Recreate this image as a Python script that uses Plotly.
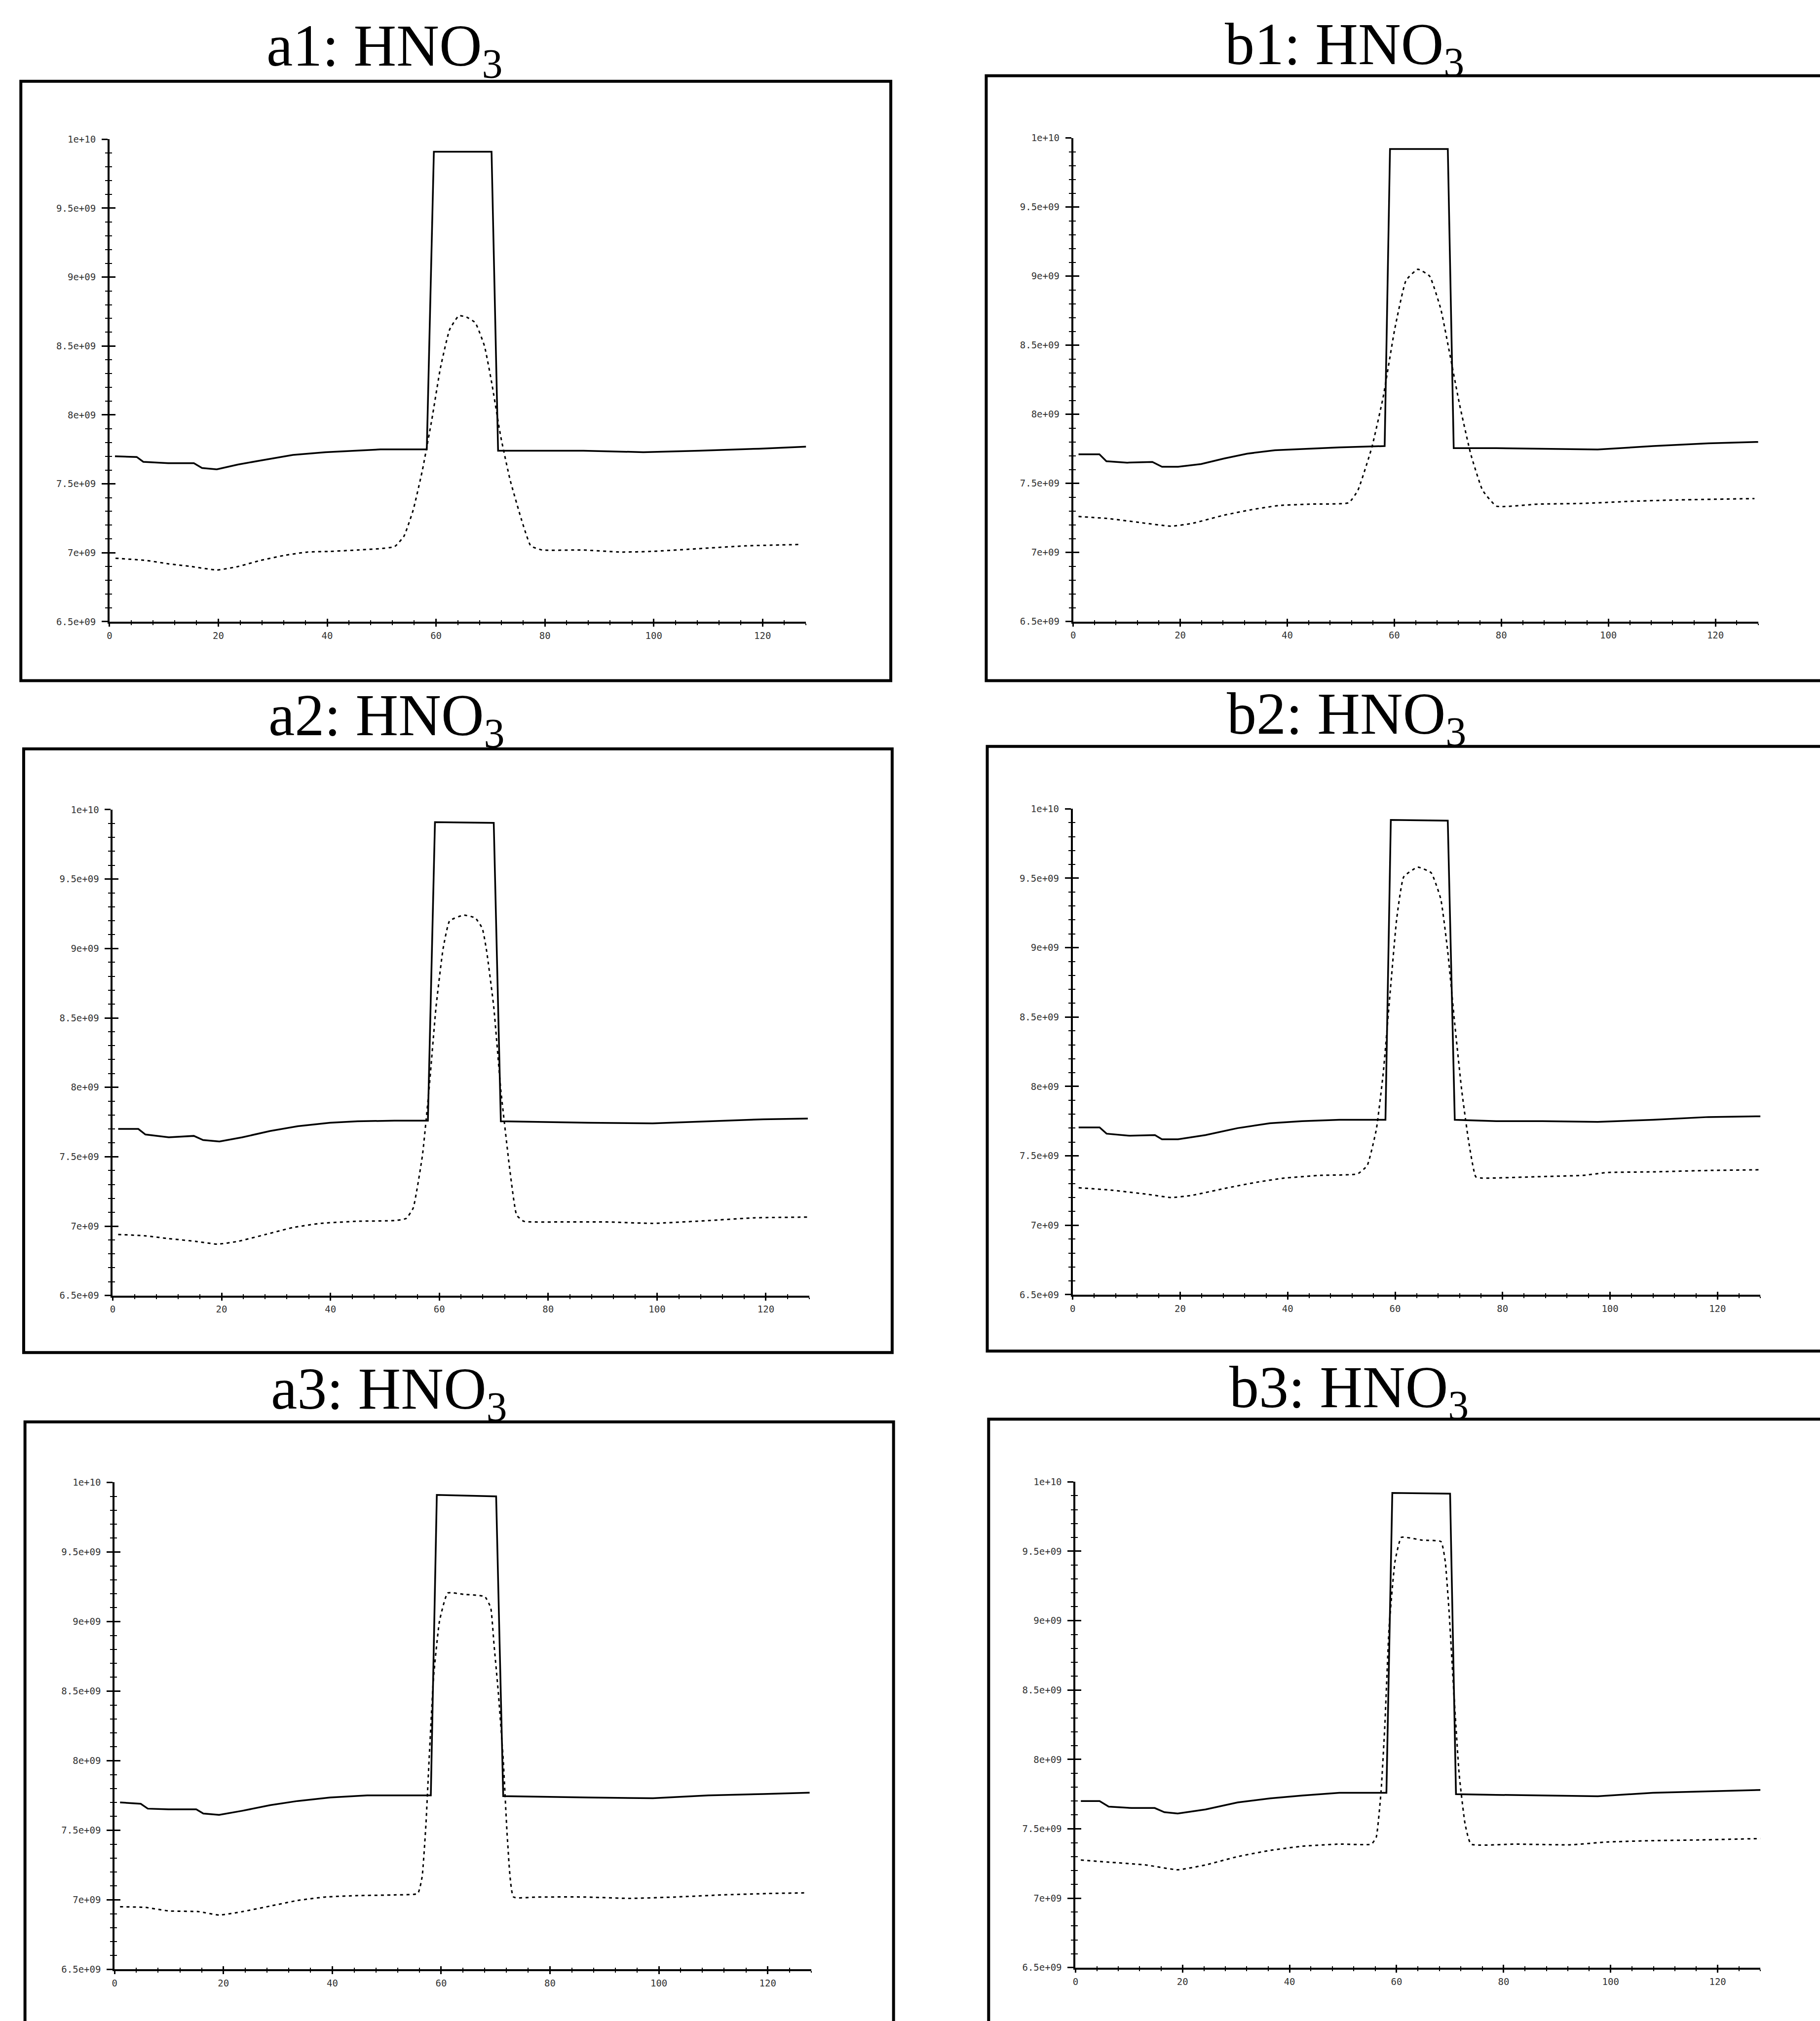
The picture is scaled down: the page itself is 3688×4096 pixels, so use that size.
import plotly.graph_objects as go

# ---------------- data ----------------
X_RANGE = [0, 128]
Y_RANGE = [6.5e9, 1.0e10]
Y_TICK_VALS = [6.5e9, 7.0e9, 7.5e9, 8.0e9, 8.5e9, 9.0e9, 9.5e9, 1.0e10]
Y_TICK_TEXT = ["6.5e+09", "7e+09", "7.5e+09", "8e+09", "8.5e+09", "9e+09", "9.5e+09", "1e+10"]
X_TICK_VALS = [0, 20, 40, 60, 80, 100, 120]
X_TICK_TEXT = ["0", "20", "40", "60", "80", "100", "120"]

TITLES = ["a1: HNO<sub>3</sub>", "b1: HNO<sub>3</sub>",
          "a2: HNO<sub>3</sub>", "b2: HNO<sub>3</sub>",
          "a3: HNO<sub>3</sub>", "b3: HNO<sub>3</sub>"]

A1_SOLID_X = [1.0, 5.0, 6.2, 10.8, 15.5, 17.0, 19.7, 23.6, 27.8, 33.7, 39.7, 45.6, 49.8, 58.3, 59.6, 70.2, 71.4, 78.6, 87.1, 98.1, 108.3, 119.3, 128.0]
A1_SOLID_Y = [7.70e9, 7.695e9, 7.66e9, 7.65e9, 7.65e9, 7.615e9, 7.605e9, 7.64e9, 7.67e9, 7.71e9, 7.73e9, 7.74e9, 7.75e9, 7.75e9, 9.91e9, 9.91e9, 7.74e9, 7.74e9, 7.74e9, 7.73e9, 7.74e9, 7.755e9, 7.77e9]
A1_DOT_X = [1.1, 6.6, 10.8, 15.1, 19.7, 23.6, 27.8, 32.0, 36.3, 40.5, 45.6, 49.8, 52.4, 54.1, 55.8, 57.5, 59.2, 60.8, 62.5, 64.2, 65.6, 67.2, 68.9, 70.2, 71.9, 73.6, 75.7, 77.4, 79.5, 87.1, 93.9, 99.8, 108.3, 116.8, 126.9]
A1_DOT_Y = [6.96e9, 6.945e9, 6.92e9, 6.90e9, 6.875e9, 6.90e9, 6.945e9, 6.98e9, 7.005e9, 7.01e9, 7.02e9, 7.03e9, 7.045e9, 7.12e9, 7.31e9, 7.60e9, 7.96e9, 8.34e9, 8.62e9, 8.72e9, 8.71e9, 8.67e9, 8.50e9, 8.24e9, 7.84e9, 7.53e9, 7.24e9, 7.05e9, 7.02e9, 7.02e9, 7.005e9, 7.01e9, 7.03e9, 7.05e9, 7.06e9]

B1_SOLID_X = [1.0, 4.9, 6.2, 10.1, 14.8, 16.6, 19.6, 23.9, 28.2, 32.5, 37.7, 43.7, 49.7, 58.2, 59.2, 70.0, 71.1, 79.1, 87.7, 98.0, 108.4, 118.7, 128.0]
B1_SOLID_Y = [7.71e9, 7.71e9, 7.66e9, 7.65e9, 7.655e9, 7.62e9, 7.62e9, 7.64e9, 7.68e9, 7.715e9, 7.74e9, 7.75e9, 7.76e9, 7.77e9, 9.92e9, 9.92e9, 7.755e9, 7.755e9, 7.75e9, 7.745e9, 7.77e9, 7.79e9, 7.80e9]
B1_DOT_X = [1.0, 6.6, 11.8, 18.3, 22.2, 28.2, 33.4, 38.5, 44.6, 51.5, 53.2, 55.8, 57.9, 60.1, 62.2, 64.4, 66.6, 68.7, 70.4, 72.2, 74.3, 76.5, 79.1, 86.8, 95.4, 104.1, 112.7, 127.3]
B1_DOT_Y = [7.26e9, 7.245e9, 7.22e9, 7.19e9, 7.21e9, 7.27e9, 7.31e9, 7.34e9, 7.35e9, 7.36e9, 7.45e9, 7.76e9, 8.12e9, 8.62e9, 8.97e9, 9.05e9, 9.00e9, 8.76e9, 8.43e9, 8.07e9, 7.71e9, 7.45e9, 7.335e9, 7.35e9, 7.355e9, 7.37e9, 7.38e9, 7.39e9]

A2_SOLID_X = [1.0, 4.7, 6.0, 10.3, 14.9, 16.6, 19.6, 23.8, 28.9, 34.0, 39.9, 45.0, 51.8, 57.9, 59.2, 70.0, 71.3, 78.9, 87.4, 99.2, 109.4, 119.6, 127.7]
A2_SOLID_Y = [7.70e9, 7.70e9, 7.66e9, 7.64e9, 7.65e9, 7.62e9, 7.61e9, 7.64e9, 7.685e9, 7.72e9, 7.745e9, 7.755e9, 7.76e9, 7.76e9, 9.91e9, 9.905e9, 7.755e9, 7.75e9, 7.745e9, 7.74e9, 7.755e9, 7.77e9, 7.775e9]
A2_DOT_X = [1.0, 6.0, 10.3, 15.3, 19.2, 23.0, 28.1, 33.1, 38.2, 45.0, 51.8, 53.9, 55.2, 56.9, 58.1, 59.4, 60.7, 61.9, 64.5, 66.6, 67.9, 68.7, 70.0, 71.3, 73.0, 74.2, 75.5, 82.3, 90.8, 99.2, 109.4, 117.9, 127.7]
A2_DOT_Y = [6.94e9, 6.93e9, 6.91e9, 6.89e9, 6.87e9, 6.89e9, 6.94e9, 6.99e9, 7.02e9, 7.035e9, 7.04e9, 7.055e9, 7.13e9, 7.51e9, 7.98e9, 8.58e9, 9.00e9, 9.20e9, 9.24e9, 9.22e9, 9.145e9, 8.98e9, 8.58e9, 7.98e9, 7.39e9, 7.08e9, 7.035e9, 7.03e9, 7.03e9, 7.02e9, 7.04e9, 7.06e9, 7.065e9]

B2_SOLID_X = [1.1, 5.0, 6.3, 10.6, 15.3, 16.6, 19.6, 24.7, 30.7, 36.7, 42.7, 49.6, 58.2, 59.2, 69.8, 71.1, 78.8, 87.4, 97.7, 108.0, 118.3, 128.0]
B2_SOLID_Y = [7.705e9, 7.705e9, 7.66e9, 7.645e9, 7.65e9, 7.62e9, 7.62e9, 7.65e9, 7.70e9, 7.735e9, 7.75e9, 7.76e9, 7.76e9, 9.92e9, 9.915e9, 7.76e9, 7.75e9, 7.75e9, 7.745e9, 7.76e9, 7.78e9, 7.785e9]
B2_DOT_X = [1.1, 6.7, 13.6, 18.3, 22.1, 28.2, 34.2, 39.3, 46.2, 53.0, 54.8, 56.5, 57.8, 59.1, 60.3, 61.6, 64.2, 66.7, 68.5, 69.8, 71.1, 72.4, 73.7, 75.0, 76.2, 86.5, 95.1, 99.4, 108.0, 118.3, 128.0]
B2_DOT_Y = [7.27e9, 7.255e9, 7.225e9, 7.20e9, 7.215e9, 7.265e9, 7.31e9, 7.34e9, 7.36e9, 7.37e9, 7.43e9, 7.69e9, 8.10e9, 8.69e9, 9.21e9, 9.51e9, 9.58e9, 9.54e9, 9.35e9, 8.97e9, 8.45e9, 7.97e9, 7.60e9, 7.35e9, 7.34e9, 7.35e9, 7.36e9, 7.38e9, 7.385e9, 7.395e9, 7.40e9]

A3_SOLID_X = [1.0, 4.8, 6.1, 9.9, 15.0, 16.3, 19.2, 23.5, 28.6, 33.6, 39.6, 46.4, 52.3, 58.1, 59.2, 70.1, 71.4, 78.6, 87.0, 98.9, 109.1, 119.2, 127.7]
A3_SOLID_Y = [7.70e9, 7.69e9, 7.655e9, 7.65e9, 7.65e9, 7.62e9, 7.61e9, 7.64e9, 7.68e9, 7.71e9, 7.735e9, 7.75e9, 7.75e9, 7.75e9, 9.91e9, 9.90e9, 7.745e9, 7.74e9, 7.735e9, 7.73e9, 7.75e9, 7.76e9, 7.77e9]
A3_DOT_X = [1.0, 5.7, 9.9, 15.4, 19.2, 23.5, 28.6, 33.6, 38.7, 44.7, 51.4, 55.7, 56.5, 57.2, 57.8, 58.6, 59.7, 61.2, 64.2, 68.0, 69.1, 69.7, 70.5, 71.4, 72.2, 73.3, 77.7, 86.2, 94.7, 103.1, 111.6, 120.1, 127.3]
A3_DOT_Y = [6.95e9, 6.945e9, 6.92e9, 6.915e9, 6.89e9, 6.915e9, 6.955e9, 6.995e9, 7.02e9, 7.03e9, 7.035e9, 7.045e9, 7.165e9, 7.54e9, 8.02e9, 8.60e9, 9.005e9, 9.205e9, 9.195e9, 9.18e9, 9.10e9, 8.84e9, 8.49e9, 8.01e9, 7.42e9, 7.02e9, 7.02e9, 7.02e9, 7.01e9, 7.02e9, 7.035e9, 7.045e9, 7.05e9]

B3_SOLID_X = [1.0, 4.5, 6.2, 10.5, 14.8, 16.6, 19.1, 24.3, 30.3, 36.4, 42.4, 49.3, 58.1, 59.2, 70.0, 71.1, 78.6, 87.2, 97.6, 107.9, 118.3, 128.0]
B3_SOLID_Y = [7.70e9, 7.70e9, 7.66e9, 7.65e9, 7.65e9, 7.62e9, 7.61e9, 7.64e9, 7.69e9, 7.72e9, 7.74e9, 7.76e9, 7.76e9, 9.92e9, 9.915e9, 7.75e9, 7.745e9, 7.74e9, 7.735e9, 7.76e9, 7.77e9, 7.78e9]
B3_DOT_X = [1.0, 6.2, 13.1, 19.1, 24.3, 30.3, 36.4, 42.4, 49.3, 55.3, 56.2, 57.1, 57.8, 58.6, 59.7, 60.9, 64.8, 68.3, 69.1, 69.8, 70.7, 71.7, 72.8, 73.9, 82.1, 92.4, 99.3, 107.9, 116.6, 128.0]
B3_DOT_Y = [7.275e9, 7.26e9, 7.24e9, 7.205e9, 7.24e9, 7.30e9, 7.345e9, 7.375e9, 7.39e9, 7.39e9, 7.44e9, 7.77e9, 8.24e9, 8.95e9, 9.425e9, 9.60e9, 9.58e9, 9.57e9, 9.425e9, 9.07e9, 8.48e9, 7.89e9, 7.535e9, 7.39e9, 7.39e9, 7.385e9, 7.405e9, 7.415e9, 7.42e9, 7.43e9]

SERIES = [
    (A1_SOLID_X, A1_SOLID_Y, A1_DOT_X, A1_DOT_Y),
    (B1_SOLID_X, B1_SOLID_Y, B1_DOT_X, B1_DOT_Y),
    (A2_SOLID_X, A2_SOLID_Y, A2_DOT_X, A2_DOT_Y),
    (B2_SOLID_X, B2_SOLID_Y, B2_DOT_X, B2_DOT_Y),
    (A3_SOLID_X, A3_SOLID_Y, A3_DOT_X, A3_DOT_Y),
    (B3_SOLID_X, B3_SOLID_Y, B3_DOT_X, B3_DOT_Y),
]

# ---------------- layout geometry (pixels in the 3688x4096 page) ----------------
W, H = 3688, 4096
# plot area: x of value 0, x of value 128, y of 1e10, y of 6.5e9
PLOT_AREAS = [
    (216.3, 1630.1, 272.8, 1255.7),
    (2172.2, 3562.6, 270.1, 1255.4),
    (222.8, 1636.9, 1638.8, 2628.8),
    (2171.3, 3567.2, 1637.1, 2627.1),
    (226.6, 1640.6, 3009.6, 4001.8),
    (2176.9, 3567.2, 3008.5, 3998.3),
]
# frames: left, top, right, bottom
FRAMES = [
    (36.3, 154.5, 1802.0, 1376.0),
    (1995.7, 143.3, 3760.0, 1376.0),
    (42.0, 1514.8, 1804.8, 2745.0),
    (1997.8, 1509.9, 3760.0, 2742.0),
    (44.7, 2886.3, 1807.6, 4160.0),
    (2000.6, 2880.7, 3760.0, 4160.0),
]
TITLE_POS = [(774.5, 90), (2722.6, 87), (779.0, 1455), (2727.0, 1452), (783.6, 2827), (2731.6, 2824)]

TICK_FONT = dict(family="DejaVu Sans Mono", size=19, color="#333333")
TITLE_FONT = dict(family="Liberation Serif", size=120, color="black")

fig = go.Figure()
layout = dict(
    width=W, height=H,
    margin=dict(l=0, r=0, t=0, b=0),
    paper_bgcolor="white", plot_bgcolor="rgba(0,0,0,0)",
    showlegend=False,
    shapes=[], annotations=[],
)


def px_x(v):
    return v / W


def px_y(v):
    return 1 - v / H


for i, (area, frame, tpos, title, ser) in enumerate(zip(PLOT_AREAS, FRAMES, TITLE_POS, TITLES, SERIES)):
    n = i + 1
    m = i + 7
    x0, x1, yt, yb = area
    xdom = [px_x(x0), px_x(x1)]
    ydom = [px_y(yb), px_y(yt)]
    xs, ys, xd, yd = ser

    fig.add_trace(go.Scatter(x=xs, y=ys, mode="lines", xaxis=f"x{n}", yaxis=f"y{n}",
                             line=dict(color="black", width=3.5), hoverinfo="skip"))
    fig.add_trace(go.Scatter(x=xd, y=yd, mode="lines", xaxis=f"x{n}", yaxis=f"y{n}",
                             line=dict(color="black", width=3, dash="6px,7px", shape="spline", smoothing=0.4),
                             hoverinfo="skip"))
    # empty trace for the overlay axes that give the crossing tick marks
    fig.add_trace(go.Scatter(x=[None], y=[None], mode="lines", xaxis=f"x{m}", yaxis=f"y{m}", hoverinfo="skip"))

    common_x = dict(range=X_RANGE, tickmode="array", tickvals=X_TICK_VALS, ticktext=X_TICK_TEXT,
                    showgrid=False, zeroline=False, tickcolor="black", tickwidth=3)
    common_y = dict(range=Y_RANGE, tickmode="array", tickvals=Y_TICK_VALS, ticktext=Y_TICK_TEXT,
                    showgrid=False, zeroline=False, tickcolor="black", tickwidth=3)

    layout[f"xaxis{n}"] = dict(domain=xdom, anchor=f"y{n}", showline=True, linecolor="black", linewidth=4,
                               ticks="outside", ticklen=6, tickfont=TICK_FONT, ticklabelstandoff=2,
                               minor=dict(tickmode="linear", tick0=0, dtick=4, ticks="outside", ticklen=3,
                                          tickwidth=2, tickcolor="black"),
                               **common_x)
    layout[f"yaxis{n}"] = dict(domain=ydom, anchor=f"x{n}", showline=True, linecolor="black", linewidth=4,
                               ticks="outside", ticklen=12, tickfont=TICK_FONT, ticklabelstandoff=8,
                               minor=dict(tickmode="linear", tick0=6.5e9, dtick=1e8, ticks="outside", ticklen=5,
                                          tickwidth=2, tickcolor="black"),
                               **common_y)
    layout[f"xaxis{m}"] = dict(overlaying=f"x{n}", anchor=f"y{n}", side="bottom", showline=False,
                               ticks="inside", ticklen=6, showticklabels=False,
                               minor=dict(tickmode="linear", tick0=0, dtick=4, ticks="inside", ticklen=3,
                                          tickwidth=2, tickcolor="black"),
                               **common_x)
    layout[f"yaxis{m}"] = dict(overlaying=f"y{n}", anchor=f"x{n}", side="left", showline=False,
                               ticks="inside", ticklen=12, showticklabels=False,
                               minor=dict(tickmode="linear", tick0=6.5e9, dtick=1e8, ticks="inside", ticklen=5,
                                          tickwidth=2, tickcolor="black"),
                               **common_y)

    fl, ft, fr, fb = frame
    layout["shapes"].append(dict(type="rect", xref="paper", yref="paper",
                                 x0=px_x(fl), x1=px_x(fr), y0=px_y(fb), y1=px_y(ft),
                                 line=dict(color="black", width=6), fillcolor="rgba(0,0,0,0)", layer="below"))
    tx, ty = tpos
    layout["annotations"].append(dict(text=title, xref="paper", yref="paper", x=px_x(tx), y=px_y(ty),
                                      xanchor="center", yanchor="middle", showarrow=False, font=TITLE_FONT))

fig.update_layout(**layout)
fig.write_html("out.html")
